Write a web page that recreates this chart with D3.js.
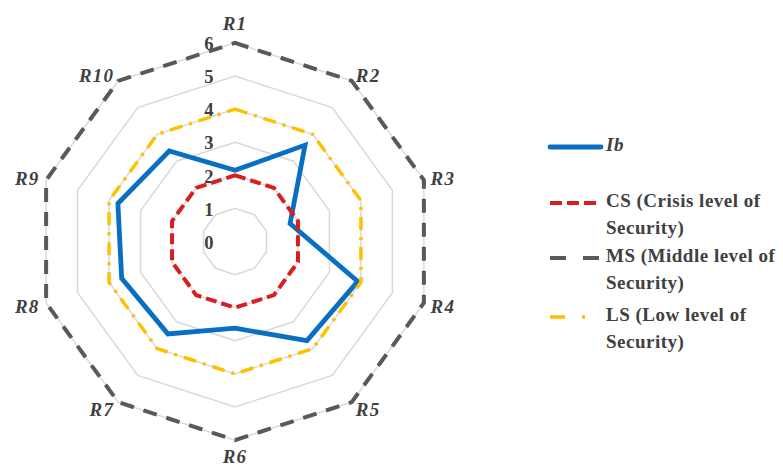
<!DOCTYPE html>
<html>
<head>
<meta charset="utf-8">
<script src="https://cdn.jsdelivr.net/npm/d3@7"></script>
<style>
  html, body { margin: 0; padding: 0; background: #ffffff; }
  svg { display: block; }
</style>
</head>
<body>
<svg id="chart" width="783" height="470"></svg>
<script>
// Regions on the radar axes
const categories = ["R1", "R2", "R3", "R4", "R5", "R6", "R7", "R8", "R9", "R10"];
// Indicator values per region
const ibValues = [2.15, 3.6, 1.75, 3.9, 3.7, 2.62, 3.45, 3.6, 3.72, 3.38];
// Reference security levels
const csValues = [2, 2, 2, 2, 2, 2, 2, 2, 2, 2];
const msValues = [6, 6, 6, 6, 6, 6, 6, 6, 6, 6];
const lsValues = [4, 4, 4, 4, 4, 4, 4, 4, 4, 4];
// Radial tick labels
const tickValues = [0, 1, 2, 3, 4, 5, 6];
const legendLabels = [
  ["Ib"],
  ["CS (Crisis level of", "Security)"],
  ["MS (Middle level of", "Security)"],
  ["LS (Low level of", "Security)"]
];

const FONT = "'Liberation Serif', 'Times New Roman', serif";
const svg = d3.select("#chart");
const cx = 235, cy = 241.5;
const rMax = 198.6;

const r = d3.scaleLinear().domain([0, 6]).range([0, rMax]);
const angle = d3.scaleLinear().domain([0, categories.length]).range([0, 2 * Math.PI]);

const g = svg.append("g").attr("transform", `translate(${cx},${cy})`);

const radial = d3.lineRadial()
  .angle((d, i) => angle(i))
  .radius(d => r(d))
  .curve(d3.curveLinearClosed);

// Concentric gridlines
g.append("g").selectAll("path")
  .data(tickValues.filter(t => t > 0))
  .join("path")
  .attr("d", t => radial(categories.map(() => t)))
  .attr("fill", "none")
  .attr("stroke", "#d9d9d9")
  .attr("stroke-width", 1.5);

// Radial tick labels
g.append("g").selectAll("text")
  .data(tickValues)
  .join("text")
  .attr("x", -21)
  .attr("y", t => -r(t) + 3)
  .attr("text-anchor", "end")
  .attr("dominant-baseline", "middle")
  .attr("font-family", FONT)
  .attr("font-weight", "bold")
  .attr("font-size", 18.5)
  .attr("letter-spacing", 0.5)
  .attr("fill", "#404040")
  .text(t => t);

// Series
const series = [
  { values: ibValues, color: "#0a6fc2", width: 4.8, dash: null },
  { values: csValues, color: "#d81e1e", width: 4, dash: "11,5" },
  { values: msValues, color: "#595959", width: 4, dash: "14,10" },
  { values: lsValues, color: "#ffc000", width: 3.5, dash: "13,7,3,7" }
];
const legendDash = [null, "12,5", "16,17", "15,17,3,20"];

g.append("g").selectAll("path")
  .data(series)
  .join("path")
  .attr("d", s => radial(s.values))
  .attr("fill", "none")
  .attr("stroke", s => s.color)
  .attr("stroke-width", s => s.width)
  .attr("stroke-dasharray", s => s.dash)
  .attr("stroke-linejoin", "miter");

// Category labels
g.append("g").selectAll("text")
  .data(categories)
  .join("text")
  .each(function (c, i) {
    const a = angle(i);
    const s = Math.sin(a), co = Math.cos(a);
    const vx = rMax * s, vy = -rMax * co;
    const t = d3.select(this);
    if (Math.abs(s) < 0.01) {
      t.attr("x", 0)
        .attr("y", co > 0 ? -rMax - 17 : rMax + 19)
        .attr("text-anchor", "middle");
    } else {
      t.attr("x", vx + 7 * s)
        .attr("y", vy + 3 - 8 * co)
        .attr("text-anchor", s > 0 ? "start" : "end");
    }
  })
  .attr("dominant-baseline", "middle")
  .attr("font-family", FONT)
  .attr("font-weight", "bold")
  .attr("font-style", "italic")
  .attr("font-size", 19)
  .attr("letter-spacing", 1.2)
  .attr("fill", "#404040")
  .text(c => c);

// Legend
const legendY = [147, 203, 258, 317];
const legend = svg.append("g");
series.forEach((s, i) => {
  legend.append("line")
    .attr("x1", 550).attr("x2", 601)
    .attr("y1", legendY[i]).attr("y2", legendY[i])
    .attr("stroke", s.color)
    .attr("stroke-width", s.width)
    .attr("stroke-dasharray", legendDash[i])
    .attr("stroke-linecap", i === 0 ? "round" : "butt");
  const txt = legend.append("text")
    .attr("x", 606)
    .attr("y", legendY[i])
    .attr("dominant-baseline", "middle")
    .attr("font-family", FONT)
    .attr("font-weight", "bold")
    .attr("font-style", i === 0 ? "italic" : "normal")
    .attr("font-size", 19)
    .attr("letter-spacing", 0.5)
    .attr("fill", "#404040");
  legendLabels[i].forEach((line, j) => {
    txt.append("tspan")
      .attr("x", 606)
      .attr("dy", j === 0 ? 0 : 27)
      .text(line);
  });
});
</script>
</body>
</html>
